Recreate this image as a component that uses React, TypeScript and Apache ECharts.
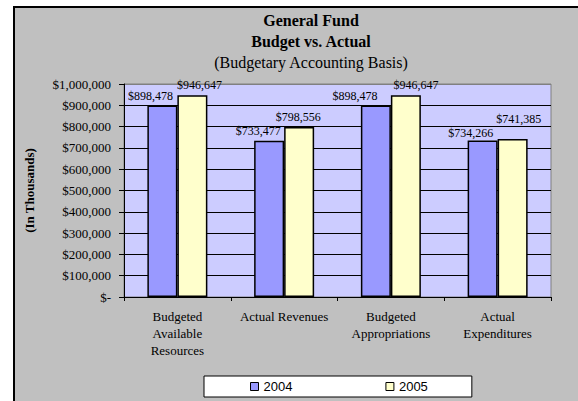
import React, { useEffect, useRef } from "react";
import * as echarts from "echarts";

const categories = [
  "Budgeted\nAvailable\nResources",
  "Actual Revenues",
  "Budgeted\nAppropriations",
  "Actual\nExpenditures",
];
const values2004 = [898478, 733477, 898478, 734266];
const values2005 = [946647, 798556, 946647, 741385];
const seriesNames = ["2004", "2005"];
const titleLines = ["General Fund", "Budget vs. Actual"];
const subTitle = "(Budgetary Accounting Basis)";
const yAxisName = "(In Thousands)";

// label shifts (style only)
const shift2004 = [[-12, 0], [-11, 0], [-21, 0], [-12, 2]];
const shift2005 = [[7, 0], [-1, 0], [10, 0], [6, -10]];

const SERIF = "'Liberation Serif', 'Times New Roman', serif";
const SANS = "'Liberation Sans', Arial, sans-serif";

const money = (v: number) => "$" + v.toLocaleString("en-US");

export default function App() {
  const ref = useRef<HTMLDivElement>(null);
  useEffect(() => {
    if (!ref.current) return;
    const chart = echarts.init(ref.current, undefined, { renderer: "svg" });
    const splitColors = Array.from({ length: 11 }, (_, i) => (i === 10 ? "#808080" : "#000000"));
    const mkSeries = (name: string, vals: number[], color: string, shifts: number[][]) => ({
      name,
      type: "bar",
      barWidth: 30,
      barGap: "0%",
      itemStyle: { color, borderColor: "#000", borderWidth: 1.5 },
      data: vals.map((v, i) => ({
        value: v,
        label: { offset: shifts[i] },
      })),
      label: {
        show: true,
        position: "top",
        distance: 4,
        fontFamily: SERIF,
        fontSize: 12,
        color: "#000",
        formatter: (p: any) => money(p.value),
      },
    });
    chart.setOption({
      animation: false,
      backgroundColor: "#ffffff",
      graphic: [
        {
          type: "rect",
          z: -10,
          silent: true,
          shape: { x: 14, y: 7, width: 620, height: 420 },
          style: { fill: "#C0C0C0", stroke: "#000", lineWidth: 2 },
        },
      ],
      title: {
        text: titleLines.join("\n"),
        subtext: subTitle,
        left: 311,
        top: 10,
        textAlign: "center",
        padding: 0,
        itemGap: 0,
        textStyle: {
          fontFamily: SERIF,
          fontSize: 16,
          fontWeight: "bold",
          color: "#000",
          lineHeight: 21,
        },
        subtextStyle: {
          fontFamily: SERIF,
          fontSize: 16,
          color: "#000",
          lineHeight: 20,
        },
      },
      legend: {
        data: seriesNames,
        left: 204,
        top: 376,
        padding: [4, 44, 4, 46],
        itemGap: 93,
        itemWidth: 8,
        itemHeight: 8,
        itemTextGap: 3,
        icon: "rect",
        backgroundColor: "#ffffff",
        borderColor: "#000",
        borderWidth: 1,
        borderRadius: 0,
        itemStyle: { borderColor: "#000", borderWidth: 1 },
        textStyle: { fontFamily: SANS, fontSize: 13, color: "#000" },
      },
      grid: {
        left: 124,
        top: 84,
        right: 27,
        bottom: 104,
        show: true,
        backgroundColor: "#CCCCFF",
        borderColor: "#808080",
        borderWidth: 1,
      },
      xAxis: {
        type: "category",
        data: categories,
        axisLine: { lineStyle: { color: "#000", width: 1 } },
        axisTick: { show: true, length: 4, lineStyle: { color: "#000" } },
        axisLabel: {
          interval: 0,
          margin: 11,
          fontFamily: SERIF,
          fontSize: 13,
          lineHeight: 17,
          color: "#000",
        },
      },
      yAxis: {
        type: "value",
        min: 0,
        max: 1000000,
        interval: 100000,
        name: yAxisName,
        nameLocation: "middle",
        nameGap: 88,
        nameRotate: 90,
        nameTextStyle: {
          fontFamily: SERIF,
          fontSize: 13,
          fontWeight: "bold",
          color: "#000",
        },
        axisLine: { show: true, lineStyle: { color: "#000", width: 1 } },
        axisTick: { show: true, length: 5, lineStyle: { color: "#000" } },
        splitLine: { show: true, lineStyle: { color: splitColors, width: 1 } },
        axisLabel: {
          margin: 13,
          fontFamily: SERIF,
          fontSize: 13,
          color: "#000",
          formatter: (v: number) => (v === 0 ? "$-" : money(v)),
        },
      },
      series: [
        mkSeries(seriesNames[0], values2004, "#9999FF", shift2004),
        mkSeries(seriesNames[1], values2005, "#FFFFCC", shift2005),
      ],
    });
    return () => chart.dispose();
  }, []);
  return (
    <div
      ref={ref}
      style={{ position: "absolute", left: 0, top: 0, width: 578, height: 401 }}
    />
  );
}
